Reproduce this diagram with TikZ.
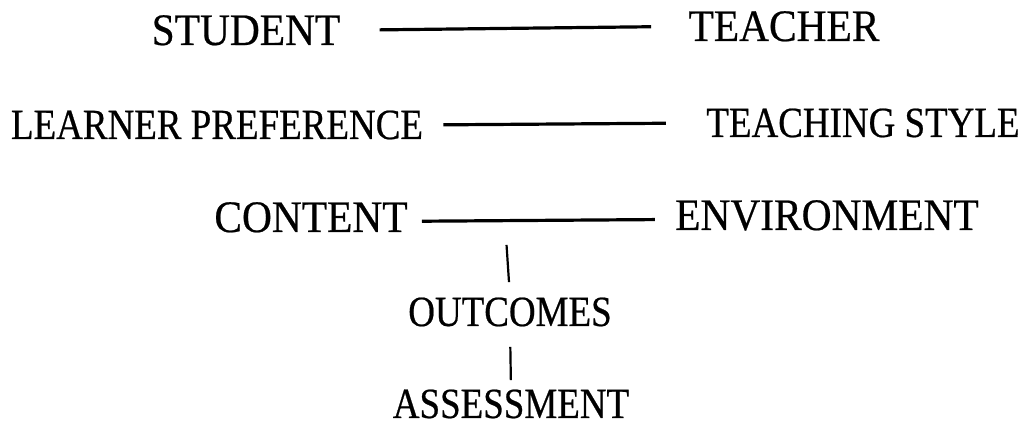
\documentclass[tikz,border=0pt]{standalone}
\usepackage{fontspec}
\usepackage{tikz}
\usetikzlibrary{positioning, calc}
\newfontfamily\termfont[FakeStretch=0.92, FakeBold=0.5]{Liberation Serif}
\newfontfamily\smalltermfont[FakeStretch=0.86, FakeBold=0.5]{Liberation Serif}
\tikzset{
  term/.style={inner sep=0pt, anchor=base, font=\termfont\fontsize{22.5}{26}\selectfont},
  smallterm/.style={inner sep=0pt, anchor=base, font=\smalltermfont\fontsize{21.5}{25}\selectfont},
  link/.style={line width=1.6pt},
  stub/.style={line width=1.1pt},
}
\begin{document}
\begin{tikzpicture}[x=0.5pt, y=-0.5pt]
  \useasboundingbox (0,0) rectangle (1028,426);

  \node[term] (student) at (246,45) {STUDENT};
  \node[term] (teacher) at (784,41) {TEACHER};
  \node[smallterm] (learner) at (217,139) {LEARNER PREFERENCE};
  \node[smallterm] (style) at (863,137) {TEACHING STYLE};
  \node[term] (content) at (311,232) {CONTENT};
  \node[term] (environment) at (827,230) {ENVIRONMENT};
  \node[smallterm] (outcomes) at (510,326) {OUTCOMES};
  \node[smallterm] (assessment) at (511,418) {ASSESSMENT};

  \coordinate (hub) at (505,222);

  \draw[link, shorten <=19.5pt, shorten >=18.5pt] (student.east) -- (teacher.west);
  \draw[link, shorten <=10pt, shorten >=20pt] (learner.east) -- (style.west);
  \draw[link, shorten <=7pt, shorten >=10pt] ([yshift=-2pt]content.east) -- ([yshift=-2pt]environment.west);
  \draw[stub, shorten <=11.5pt, shorten >=7.5pt] (hub) -- (outcomes.north);
  \draw[stub, shorten <=10pt, shorten >=4.5pt] (outcomes.south) -- (assessment.north);
\end{tikzpicture}
\end{document}
